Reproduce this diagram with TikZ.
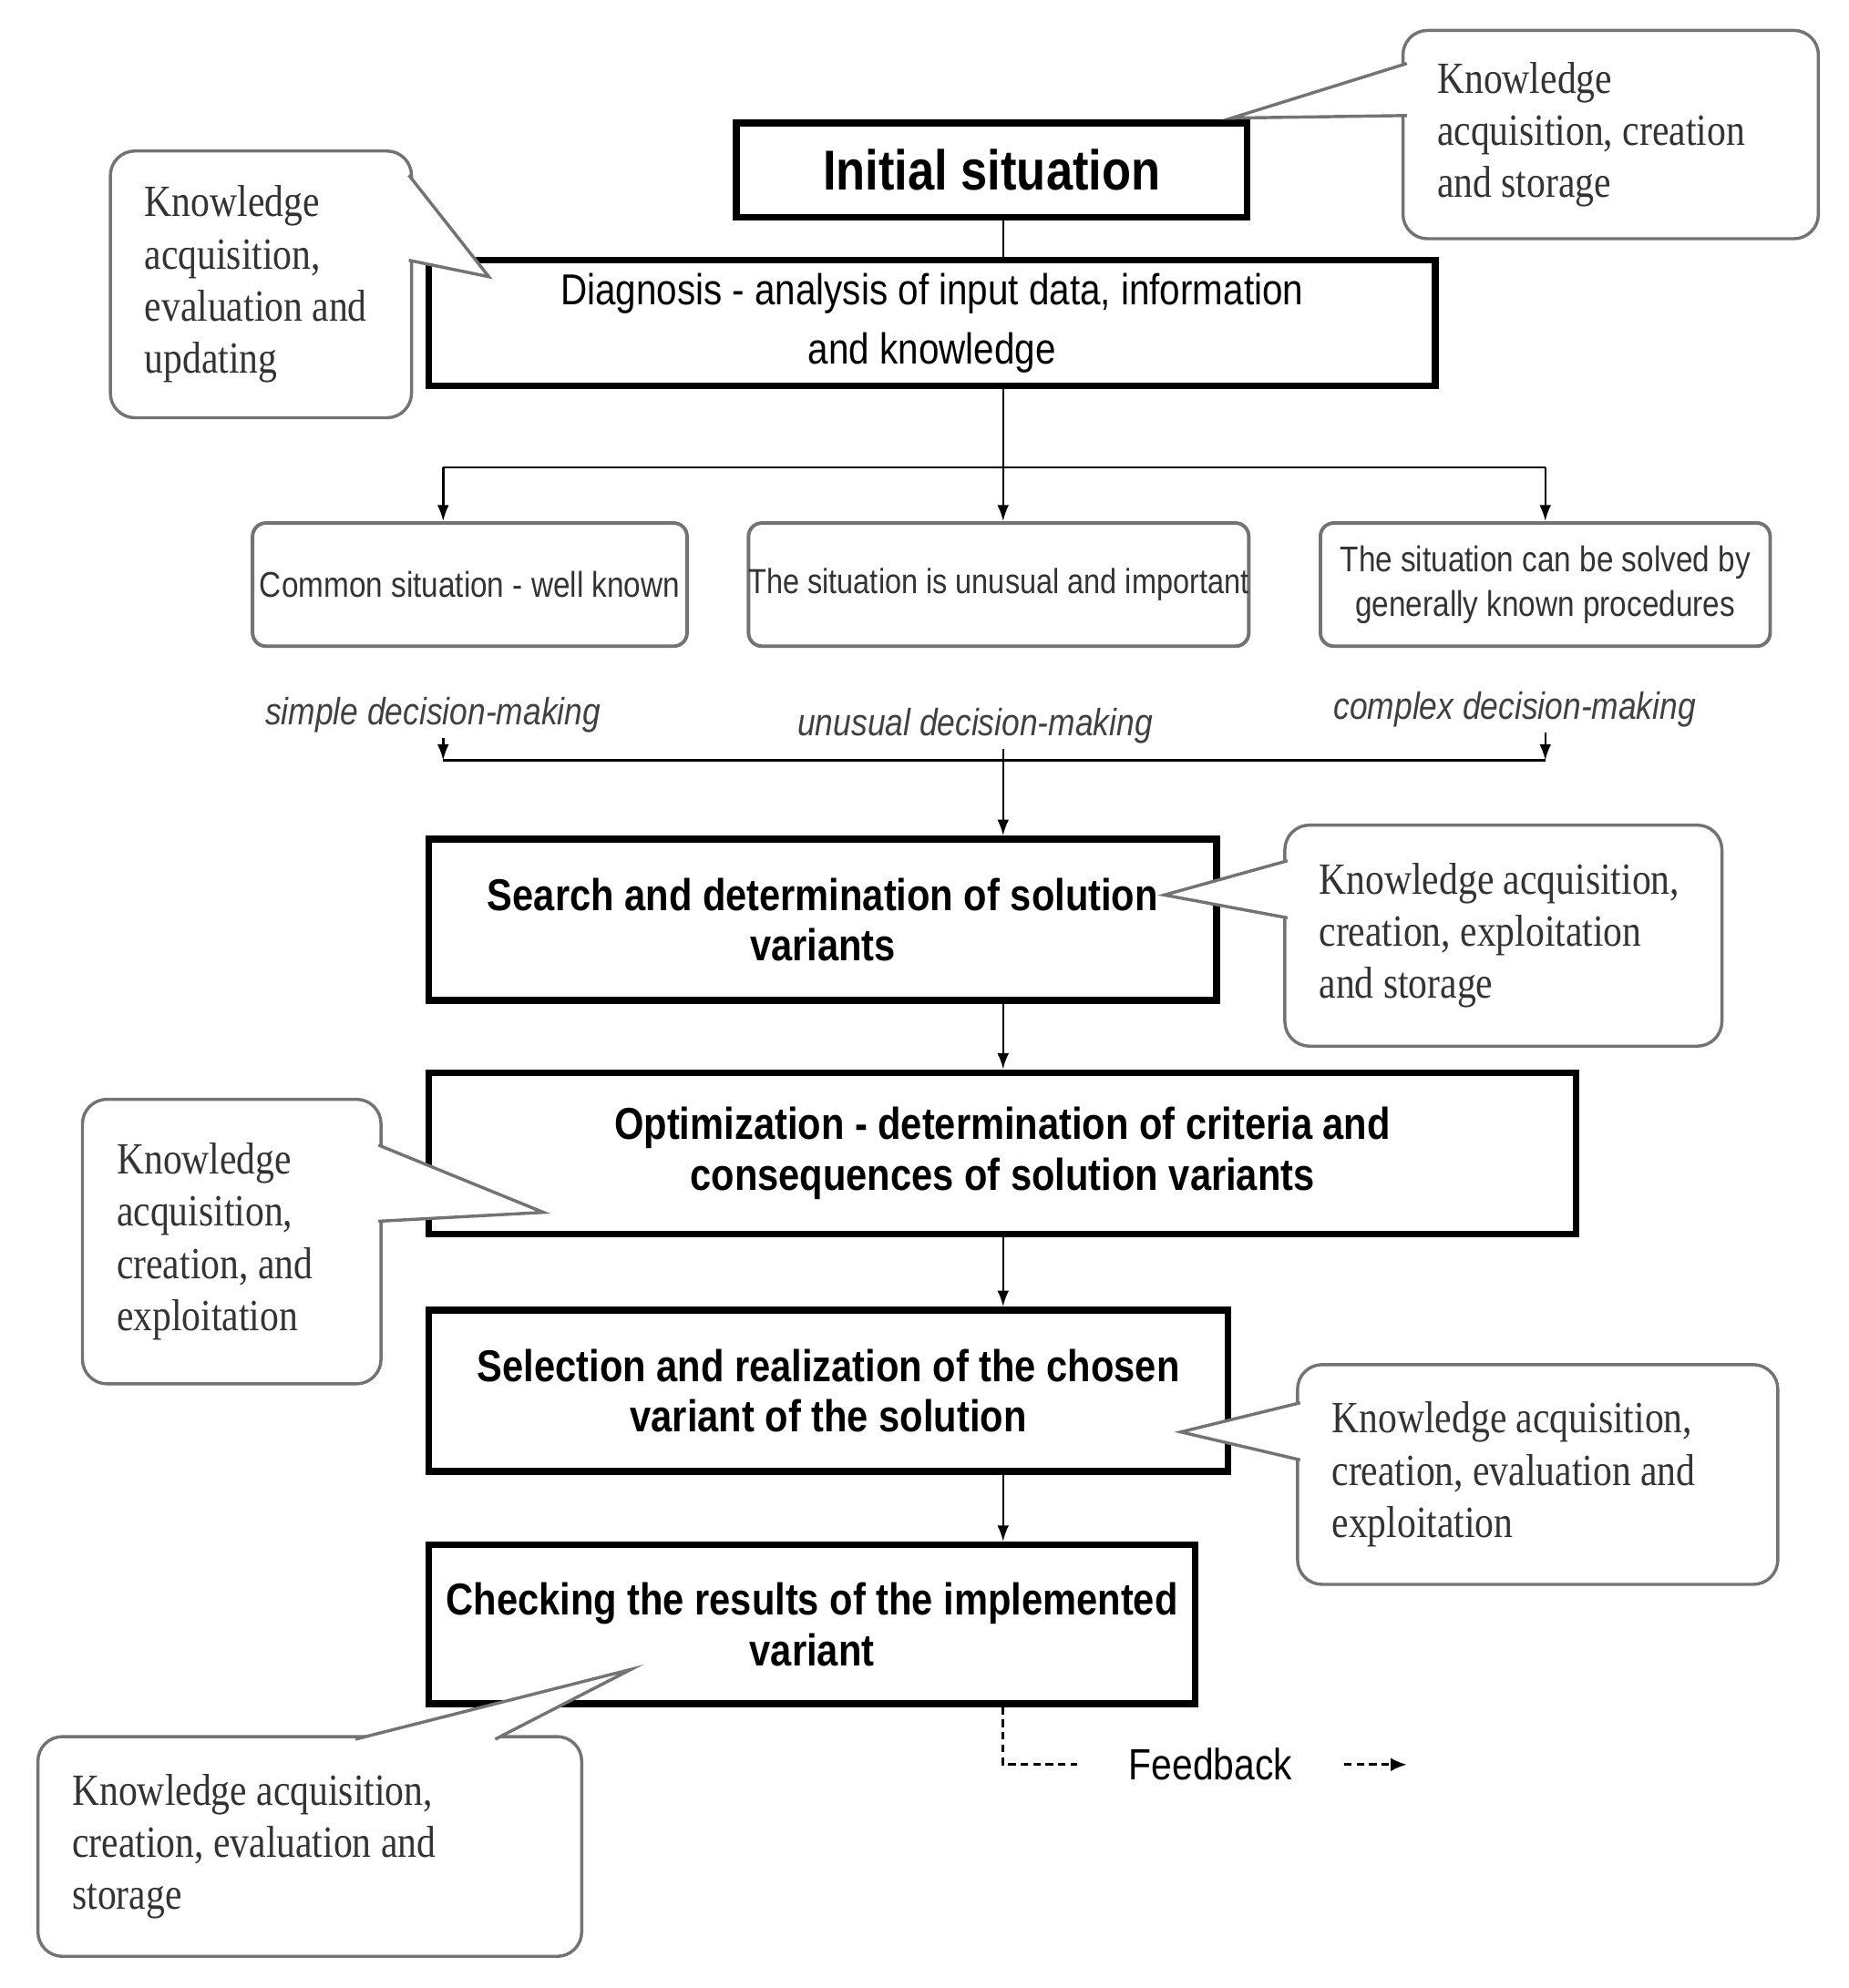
\documentclass[tikz,border=0pt]{standalone}
\usepackage{fontspec}
\setmainfont{Liberation Serif}[FakeStretch=0.85]
\setsansfont{Liberation Sans}[FakeStretch=0.85]
\usetikzlibrary{arrows.meta}

\begin{document}
\begin{tikzpicture}[
    x=0.01cm, y=-0.01cm,
    stepbox/.style={draw, line width=1.5pt, align=flush center, inner sep=0pt,
        font=\sffamily\bfseries\fontsize{10}{11.4}\selectfont},
    casebox/.style={draw=black!55, line width=0.8pt, rounded corners=3pt,
        align=flush center, inner sep=0pt, minimum height=0.97cm, text=black!80,
        font=\sffamily\fontsize{8}{10}\selectfont},
    casetag/.style={inner sep=1pt, text=black!75,
        font=\sffamily\itshape\fontsize{8.5}{10}\selectfont},
    note/.style={draw=black!55, fill=white, line width=0.7pt, rounded corners=5.5pt,
        align=flush left, inner xsep=0.27cm, inner ysep=0pt, text=black!80,
        font=\rmfamily\fontsize{10}{11.7}\selectfont},
    pointer/.style={draw=black!55, fill=white, line width=0.7pt},
    link/.style={-{Latex[length=3.6pt, width=2.6pt]}, line width=0.5pt},
    fbline/.style={line width=0.6pt, dash pattern=on 1.7pt off 1.1pt}
]
\useasboundingbox (0,0) rectangle (1456,1566);

% Main steps
\node[stepbox, minimum width=4.02cm, minimum height=0.74cm,
    font=\sffamily\bfseries\fontsize{12.6}{14}\selectfont] (init) at (781,134) {Initial situation};
\node[stepbox, minimum width=7.92cm, minimum height=0.99cm,
    font=\sffamily\fontsize{9.7}{13.4}\selectfont] (diag) at (734,254.5)
    {Diagnosis - analysis of input data, information\\and knowledge};

\coordinate (axis) at (790,0);

% Kinds of situation
\node[casebox, minimum width=3.42cm] (common) at (370,460.5) {Common situation - well known};
\node[casebox, minimum width=3.89cm, font=\sffamily\fontsize{7.8}{10}\selectfont] (unusual) at (786.5,460.5)
    {The situation is unusual and important};
\node[casebox, minimum width=3.54cm] (solved) at (1217,460.5)
    {The situation can be solved by\\generally known procedures};

\node[casetag] (simple) at (341,563) {simple decision-making};
\node[casetag] (usual) at (768,572) {unusual decision-making};
\node[casetag] (complex) at (1193,559) {complex decision-making};

\coordinate (splitL) at (349,368);
\coordinate (splitR) at (1217,368);
\coordinate (mergeL) at (349,599);
\coordinate (mergeR) at (1217,599);

% Solution steps
\node[stepbox, minimum width=6.2cm, minimum height=1.27cm] (search) at (648,724.5)
    {Search and determination of solution\\variants};
\node[stepbox, minimum width=9.03cm, minimum height=1.27cm] (optim) at (789.5,908.5)
    {Optimization - determination of criteria and\\consequences of solution variants};
\node[stepbox, minimum width=6.29cm, minimum height=1.27cm] (select) at (652.5,1095.5)
    {Selection and realization of the chosen\\variant of the solution};
\node[stepbox, minimum width=6.03cm, minimum height=1.25cm] (check) at (639.5,1279.5)
    {Checking the results of the implemented\\variant};

\node[inner xsep=0.4cm, inner ysep=0pt,
    font=\sffamily\fontsize{9.8}{11}\selectfont] (feedback) at (953.5,1390) {Feedback};
\coordinate (fbend) at (1108,1390);

% Connectors
\draw[line width=0.5pt] (init.south -| axis) -- (diag.north -| axis);
\draw[link] (diag.south -| axis) -- (unusual.north -| axis);
\draw[line width=0.5pt] (splitL) -- (splitR);
\draw[link] (splitL) -- (splitL |- common.north);
\draw[link] (splitR) -- (solved.north);

\draw[line width=0.5pt] (mergeL) -- (mergeR);
\draw[link] (simple.south -| mergeL) -- (mergeL);
\draw[link] (complex.south -| mergeR) -- (mergeR);
\draw[link] (usual.south -| axis) -- (search.north -| axis);

\draw[link] (search.south -| axis) -- (optim.north -| axis);
\draw[link] (optim.south -| axis) -- (select.north -| axis);
\draw[link] (select.south -| axis) -- (check.north -| axis);

\draw[fbline] (check.south -| axis) |- (feedback.west);
\draw[fbline, -{Latex[length=3.6pt, width=3pt]}] (feedback.east) -- (fbend);

% Knowledge callouts
\node[note, text width=2.73cm, minimum height=1.64cm] (noteA) at (1268.5,106)
    {Knowledge\\acquisition, creation\\and storage};
\filldraw[pointer] (1108,50) -- (970,93) -- (1108,91);

\node[note, text width=1.83cm, minimum height=2.1cm] (noteB) at (205.5,224)
    {Knowledge\\acquisition,\\evaluation and\\updating};
\filldraw[pointer] (322,138) -- (385,218) -- (322,205);

\node[note, text width=2.9cm, minimum height=1.74cm] (noteC) at (1184,737)
    {Knowledge acquisition,\\creation, exploitation\\and storage};
\filldraw[pointer] (1014,678) -- (917,705) -- (1014,723);

\node[note, text width=1.81cm, minimum height=2.24cm] (noteD) at (182.5,978)
    {Knowledge\\acquisition,\\creation, and\\exploitation};
\filldraw[pointer] (298,902) -- (428,955) -- (298,962);

\node[note, text width=3.24cm, minimum height=1.73cm] (noteE) at (1211,1161.5)
    {Knowledge acquisition,\\creation, evaluation and\\exploitation};
\filldraw[pointer] (1024,1105) -- (930,1128) -- (1024,1150);

\node[note, text width=3.74cm, minimum height=1.73cm] (noteF) at (244,1454.5)
    {Knowledge acquisition,\\creation, evaluation and\\storage};
\filldraw[pointer] (280,1370) -- (497,1315) -- (390,1370);

\end{tikzpicture}
\end{document}
